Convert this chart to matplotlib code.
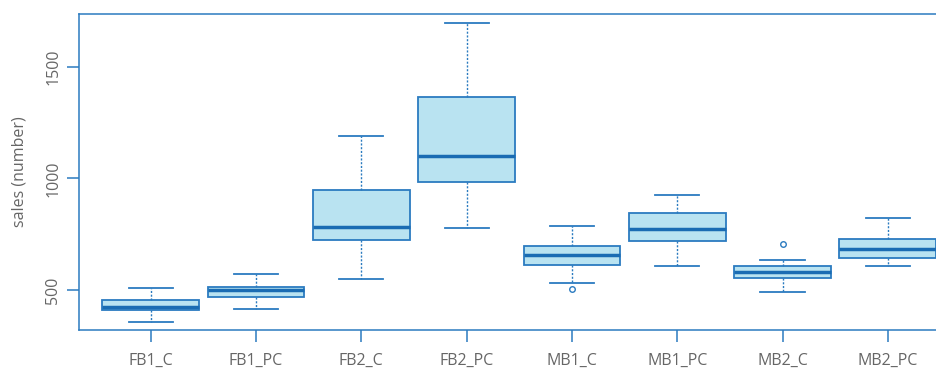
import numpy as np
import matplotlib.pyplot as plt

groups = ["FB1_C", "FB1_PC", "FB2_C", "FB2_PC", "MB1_C", "MB1_PC", "MB2_C", "MB2_PC"]
whislo = [356, 414, 551, 778, 532, 606, 490, 606]
q1 = [409, 467, 723, 985, 611, 720, 553, 642]
med = [424, 500, 784, 1102, 658, 775, 581, 685]
q3 = [457, 515, 949, 1366, 699, 844, 609, 728]
whishi = [510, 572, 1191, 1696, 785, 924, 633, 823]
fliers = [[], [], [], [], [506], [], [708], []]

edge = "#2b7bc0"
fill = "#b9e3f1"
medc = "#1a6cb3"
txt = "#666666"

plt.rcParams['font.family'] = ['Open Sans', 'DejaVu Sans']

stats = []
for i in range(len(groups)):
    stats.append(dict(label=groups[i], whislo=whislo[i], q1=q1[i], med=med[i],
                      q3=q3[i], whishi=whishi[i], fliers=fliers[i]))

fig = plt.figure(figsize=(9.37, 3.7), dpi=100)
ax = fig.add_axes([79 / 937, 40.5 / 370, 871 / 937, 315.5 / 370])

ax.bxp(stats, positions=np.arange(1, len(groups) + 1), widths=0.92,
       capwidths=0.42, patch_artist=True, showfliers=True,
       boxprops=dict(facecolor=fill, edgecolor=edge, linewidth=1.3),
       medianprops=dict(color=medc, linewidth=2.5),
       whiskerprops=dict(color=edge, linewidth=1.0, linestyle=(0, (1.5, 1.2))),
       capprops=dict(color=edge, linewidth=1.3),
       flierprops=dict(marker="o", markersize=4, markerfacecolor="none",
                       markeredgecolor=edge, markeredgewidth=1.0))

ax.set_xlim(0.319, 8.59)
ax.set_ylim(323, 1736)
ax.set_yticks([500, 1000, 1500])
ax.set_yticklabels(["500", "1000", "1500"], rotation=90, va="center")

for s in ax.spines.values():
    s.set_color(edge)
    s.set_linewidth(1.1)

ax.tick_params(axis="both", direction="out", length=8.6, width=1.1, color=edge,
               labelcolor=txt, labelsize=11.5)
ax.tick_params(axis="x", pad=8)
ax.tick_params(axis="y", pad=4)
ax.set_ylabel("sales (number)", color=txt, fontsize=11.5, labelpad=13)

plt.savefig("out.png", dpi=100)
